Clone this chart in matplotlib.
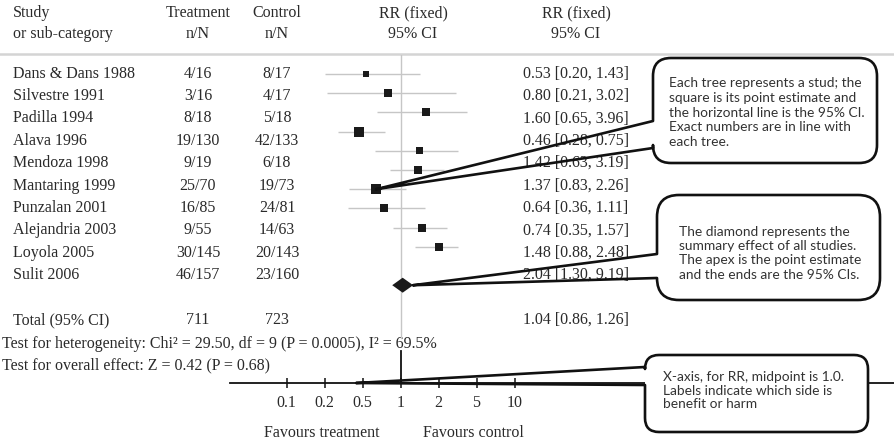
import numpy as np
import matplotlib
matplotlib.use("Agg")
import matplotlib.pyplot as plt
from matplotlib.path import Path
from matplotlib.patches import PathPatch

# ---------------- data ----------------
studies = ["Dans & Dans 1988", "Silvestre 1991", "Padilla 1994", "Alava 1996",
           "Mendoza 1998", "Mantaring 1999", "Punzalan 2001", "Alejandria 2003",
           "Loyola 2005", "Sulit 2006"]
treat_nN = ["4/16", "3/16", "8/18", "19/130", "9/19", "25/70", "16/85", "9/55",
            "30/145", "46/157"]
ctrl_nN = ["8/17", "4/17", "5/18", "42/133", "6/18", "19/73", "24/81", "14/63",
           "20/143", "23/160"]
rr = [0.53, 0.80, 1.60, 0.46, 1.42, 1.37, 0.64, 0.74, 1.48, 2.04]
ci_low = [0.20, 0.21, 0.65, 0.28, 0.63, 0.83, 0.36, 0.35, 0.88, 1.30]
ci_high = [1.43, 3.02, 3.96, 0.75, 3.19, 2.26, 1.11, 1.57, 2.48, 3.19]
rr_labels = ["0.53 [0.20, 1.43]", "0.80 [0.21, 3.02]", "1.60 [0.65, 3.96]",
             "0.46 [0.28, 0.75]", "1.42 [0.63, 3.19]", "1.37 [0.83, 2.26]",
             "0.64 [0.36, 1.11]", "0.74 [0.35, 1.57]", "1.48 [0.88, 2.48]",
             "2.04 [1.30, 9.19]"]
total_treat = 711
total_ctrl = 723
total_rr = 1.04
total_low = 0.86
total_high = 1.26
total_label = "1.04 [0.86, 1.26]"
heterogeneity = "Test for heterogeneity: Chi² = 29.50, df = 9 (P = 0.0005), I² = 69.5%"
overall = "Test for overall effect: Z = 0.42 (P = 0.68)"
xticks = [0.1, 0.2, 0.5, 1, 2, 5, 10]
xtick_labels = ["0.1", "0.2", "0.5", "1", "2", "5", "10"]

# ---------------- style / layout ----------------
W, H = 894, 445
SERIF = "Liberation Serif"
SANS = "Lato"
TXT = "#2a2a2a"
GREY = "#c6c6c6"
FS = 11.5
box_px = [6, 8, 8, 10, 7, 8, 10, 8, 8, 8]   # square sizes (pixels)

TEXT_ROW0, TEXT_ROW = 73.5, 22.4           # text rows (pixels)
GRAPH_ROW0, GRAPH_ROW = 74.0, 19.2         # graph rows (pixels)
AXIS_Y, GRAPH_TOP = 383, 55
AX_LEFT = 230
ONE_PX, STEP_PX = 400.5, 38.0

fig = plt.figure(figsize=(W / 100, H / 100), dpi=100)
fig.patch.set_facecolor("white")

bg = fig.add_axes([0, 0, 1, 1])
bg.set_xlim(0, W)
bg.set_ylim(H, 0)
bg.axis("off")

# piecewise log scale: each tick step has equal width
L = np.log10(xticks)
I = np.arange(len(xticks), dtype=float)
lo_slope = L[1] - L[0]
hi_slope = L[-1] - L[-2]


def fwd(v):
    v = np.asarray(v, float)
    lv = np.log10(np.clip(v, 1e-12, None))
    out = np.interp(lv, L, I)
    out = np.where(lv < L[0], (lv - L[0]) / lo_slope, out)
    out = np.where(lv > L[-1], I[-1] + (lv - L[-1]) / hi_slope, out)
    return out


def inv(i):
    i = np.asarray(i, float)
    lv = np.interp(i, I, L)
    lv = np.where(i < 0, L[0] + i * lo_slope, lv)
    lv = np.where(i > I[-1], L[-1] + (i - I[-1]) * hi_slope, lv)
    return 10 ** lv


ax = fig.add_axes([AX_LEFT / W, (H - AXIS_Y) / H, (W - AX_LEFT) / W,
                   (AXIS_Y - GRAPH_TOP) / H])
ax.patch.set_visible(False)
ax.set_xscale("function", functions=(fwd, inv))
p0 = ONE_PX - 3 * STEP_PX
ax.set_xlim(inv((AX_LEFT - p0) / STEP_PX), inv((W - p0) / STEP_PX))
ax.set_ylim((AXIS_Y - GRAPH_ROW0) / GRAPH_ROW, (GRAPH_TOP - GRAPH_ROW0) / GRAPH_ROW)
for s in ["top", "left", "right"]:
    ax.spines[s].set_visible(False)
ax.spines["bottom"].set_linewidth(1.3)
ax.spines["bottom"].set_color("#111111")
ax.set_yticks([])
ax.set_xticks(xticks)
ax.set_xticklabels(xtick_labels, fontfamily=SERIF, fontsize=FS, color=TXT)
ax.minorticks_off()
ax.tick_params(axis="x", direction="inout", length=7, width=1.1, pad=5,
               color="#111111")

rows = np.arange(len(studies))
ax.hlines(rows, ci_low, ci_high, color=GREY, lw=1.0, zorder=2)
ax.scatter(rr, rows, marker="s", s=[(b * 0.72) ** 2 for b in box_px],
           color="#1a1a1a", zorder=3, linewidths=0)
trow = len(studies) + 1
dh = 0.39
ax.fill([total_low, total_rr, total_high, total_rr],
        [trow, trow - dh, trow, trow + dh], color="#1a1a1a", zorder=3, lw=0)
# line of no effect
ax.axvline(1, ymin=(AXIS_Y - 338) / (AXIS_Y - GRAPH_TOP), ymax=1, color=GREY,
           lw=1.0, zorder=1)
ax.axvline(1, ymin=0, ymax=(AXIS_Y - 351) / (AXIS_Y - GRAPH_TOP), color="#111111",
           lw=1.3, zorder=1)

# ---------------- text columns ----------------
TREAT_X, CTRL_X, RR_HDR_X, RR_TXT_X = 198, 277, 413, 576
tk = dict(fontfamily=SERIF, fontsize=FS, color=TXT, va="center")
bg.text(13, 13, "Study", ha="left", **tk)
bg.text(13, 34, "or sub-category", ha="left", **tk)
bg.text(TREAT_X, 13, "Treatment", ha="center", **tk)
bg.text(TREAT_X, 34, "n/N", ha="center", **tk)
bg.text(CTRL_X, 13, "Control", ha="center", **tk)
bg.text(CTRL_X, 34, "n/N", ha="center", **tk)
bg.text(RR_HDR_X, 13, "RR (fixed)", ha="center", **tk)
bg.text(RR_HDR_X, 34, "95% CI", ha="center", **tk)
bg.text(RR_TXT_X, 13, "RR (fixed)", ha="center", **tk)
bg.text(RR_TXT_X, 34, "95% CI", ha="center", **tk)
bg.plot([0, W], [53.5, 53.5], color="#d4d4d4", lw=1.8)

for k, name in enumerate(studies):
    y = TEXT_ROW0 + TEXT_ROW * k
    bg.text(13, y, name, ha="left", **tk)
    bg.text(TREAT_X, y, treat_nN[k], ha="center", **tk)
    bg.text(CTRL_X, y, ctrl_nN[k], ha="center", **tk)
    bg.text(RR_TXT_X, y, rr_labels[k], ha="center", **tk)

ytot = TEXT_ROW0 + TEXT_ROW * (len(studies) + 1)
bg.text(13, ytot, "Total (95% CI)", ha="left", **tk)
bg.text(TREAT_X, ytot, str(total_treat), ha="center", **tk)
bg.text(CTRL_X, ytot, str(total_ctrl), ha="center", **tk)
bg.text(RR_TXT_X, ytot, total_label, ha="center", **tk)
bg.text(2, 344, heterogeneity, ha="left", **tk)
bg.text(2, 365, overall, ha="left", **tk)
bg.text(322, 433, "Favours treatment", ha="center", **tk)
bg.text(473, 433, "Favours control", ha="center", **tk)

# ---------------- callouts ----------------
top = fig.add_axes([0, 0, 1, 1], zorder=5)
top.patch.set_visible(False)
top.set_xlim(0, W)
top.set_ylim(H, 0)
top.axis("off")


def data_to_px(x, y):
    d = ax.transData.transform((x, y))
    return d[0], H - d[1]


def rounded_box(Lx, T, R, B, r):
    verts = [(Lx, T + r), (Lx, T), (Lx + r, T), (R - r, T), (R, T), (R, T + r),
             (R, B - r), (R, B), (R - r, B), (Lx + r, B), (Lx, B), (Lx, B - r),
             (Lx, T + r)]
    codes = [Path.MOVETO, Path.CURVE3, Path.CURVE3, Path.LINETO, Path.CURVE3,
             Path.CURVE3, Path.LINETO, Path.CURVE3, Path.CURVE3, Path.LINETO,
             Path.CURVE3, Path.CURVE3, Path.CLOSEPOLY]
    return Path(verts, codes)


def callout(Lx, T, R, B, r, a_top, a_bot, tip):
    # white body
    top.add_patch(PathPatch(rounded_box(Lx, T, R, B, r), facecolor="white",
                            edgecolor="none"))
    # outline with open pointer
    verts = [tip, (Lx, a_top), (Lx, T + r), (Lx, T), (Lx + r, T), (R - r, T),
             (R, T), (R, T + r), (R, B - r), (R, B), (R - r, B), (Lx + r, B),
             (Lx, B), (Lx, B - r), (Lx, a_bot), tip]
    codes = [Path.MOVETO, Path.LINETO, Path.LINETO, Path.CURVE3, Path.CURVE3,
             Path.LINETO, Path.CURVE3, Path.CURVE3, Path.LINETO, Path.CURVE3,
             Path.CURVE3, Path.LINETO, Path.CURVE3, Path.CURVE3, Path.LINETO,
             Path.LINETO]
    top.add_patch(PathPatch(Path(verts, codes), facecolor="none",
                            edgecolor="#111111", lw=1.9, joinstyle="round",
                            capstyle="round"))


ck = dict(fontfamily=SANS, fontsize=9.9, color="#333333", va="center", ha="left")

callout(653, 58, 877, 163, 18, 121, 148, data_to_px(rr[6], 6))
for i, line in enumerate(["Each tree represents a stud; the",
                          "square is its point estimate and",
                          "the horizontal line is the 95% CI.",
                          "Exact numbers are in line with",
                          "each tree."]):
    top.text(669, 83 + 14.8 * i, line, **ck)

callout(657, 195, 880, 300, 22, 254, 278, data_to_px(total_high, trow))
for i, line in enumerate(["The diamond represents the",
                          "summary effect of all studies.",
                          "The apex is the point estimate",
                          "and the ends are the 95% CIs."]):
    top.text(679, 232 + 14.2 * i, line, **ck)

callout(645, 355, 868, 432, 14, 367, 385,
        data_to_px(0.43, (AXIS_Y - GRAPH_ROW0) / GRAPH_ROW))
for i, line in enumerate(["X-axis, for RR, midpoint is 1.0.",
                          "Labels indicate which side is",
                          "benefit or harm"]):
    top.text(663, 377 + 13.6 * i, line, **ck)

fig.savefig("out.png", dpi=100)
